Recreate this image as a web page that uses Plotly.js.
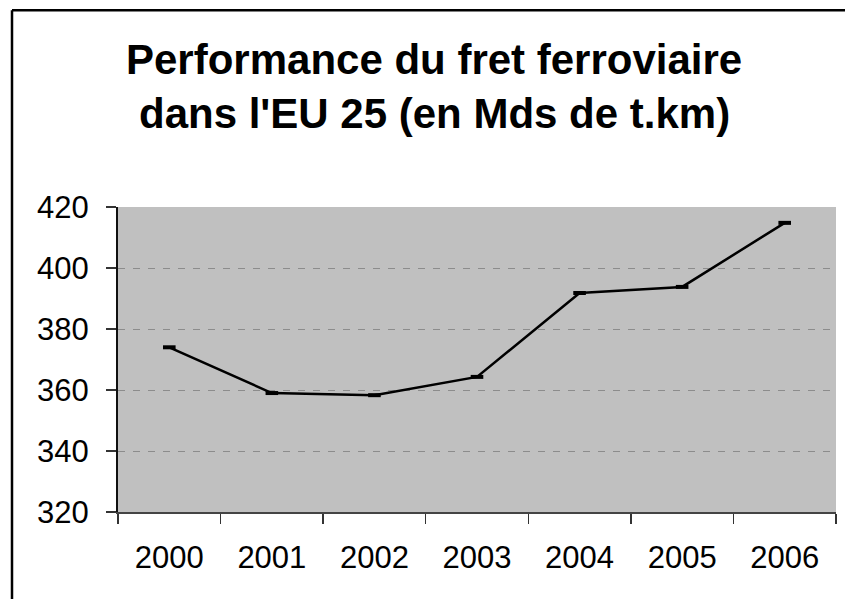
<!DOCTYPE html>
<html>
<head>
<meta charset="utf-8">
<script src="https://cdn.plot.ly/plotly-3.0.1.min.js"></script>
<style>
html,body{margin:0;padding:0;background:#fff;}
#chart{width:845px;height:599px;}
</style>
</head>
<body>
<div id="chart"></div>
<script>
var years = ["2000","2001","2002","2003","2004","2005","2006"];
var fret = [374, 359, 358.3, 364.3, 391.8, 393.8, 414.8];
var yTicks = [320, 340, 360, 380, 400, 420];
var titleLine1 = "Performance du fret ferroviaire";
var titleLine2 = "dans l'EU 25 (en Mds de t.km)";

var W = 845, H = 599;
var mL = 118, mR = 9, mT = 206.7, mB = 87.3;
var pw = W - mL - mR, ph = H - mT - mB;
function px2x(p){ return (p - mL) / pw; }
function py2y(p){ return (H - mB - p) / ph; }

var trace = {
  x: years,
  y: fret,
  type: "scatter",
  mode: "lines+markers",
  line: {color: "#000", width: 2.5},
  marker: {symbol: "line-ew", size: 9, color: "#000", line: {color: "#000", width: 4}},
  hoverinfo: "x+y"
};

var font = "Liberation Sans, Arial, sans-serif";

var layout = {
  width: W, height: H,
  margin: {l: mL, r: mR, t: mT, b: mB, pad: 0},
  paper_bgcolor: "#fff",
  plot_bgcolor: "#c0c0c0",
  showlegend: false,
  font: {family: font, color: "#000"},
  xaxis: {
    type: "category",
    range: [-0.5, 6.5],
    tickson: "boundaries",
    ticks: "outside", ticklen: 10, tickwidth: 1.5, tickcolor: "#333",
    showline: true, linecolor: "#444", linewidth: 2,
    showgrid: false, zeroline: false,
    tickfont: {size: 31, family: font, color: "#000"},
    ticklabelstandoff: 17,
    fixedrange: true
  },
  yaxis: {
    range: [320, 420],
    tickvals: yTicks,
    ticktext: yTicks.map(String),
    ticks: "outside", ticklen: 10, tickwidth: 1.5, tickcolor: "#333",
    showline: true, linecolor: "#111", linewidth: 2,
    showgrid: true, gridcolor: "#8c8c8c", gridwidth: 1, griddash: "7px,8px",
    zeroline: false,
    tickfont: {size: 31, family: font, color: "#000"},
    ticklabelstandoff: 11,
    fixedrange: true
  },
  annotations: [
    {text: "<b>" + titleLine1 + "</b>", xref: "paper", yref: "paper",
     x: px2x(434), y: py2y(59), xanchor: "center", yanchor: "middle",
     showarrow: false, font: {size: 42, family: font, color: "#000"}},
    {text: "<b>" + titleLine2 + "</b>", xref: "paper", yref: "paper",
     x: px2x(434), y: py2y(113), xanchor: "center", yanchor: "middle",
     showarrow: false, font: {size: 42, family: font, color: "#000"}}
  ],
  shapes: [
    {type: "line", xref: "paper", yref: "paper", layer: "above",
     x0: px2x(12), x1: px2x(12), y0: py2y(10), y1: py2y(700),
     line: {color: "#000", width: 2.5}},
    {type: "line", xref: "paper", yref: "paper", layer: "above",
     x0: px2x(12), x1: px2x(900), y0: py2y(10), y1: py2y(10),
     line: {color: "#000", width: 2.5}}
  ]
};

Plotly.newPlot("chart", [trace], layout, {displayModeBar: false, staticPlot: true});
</script>
</body>
</html>
